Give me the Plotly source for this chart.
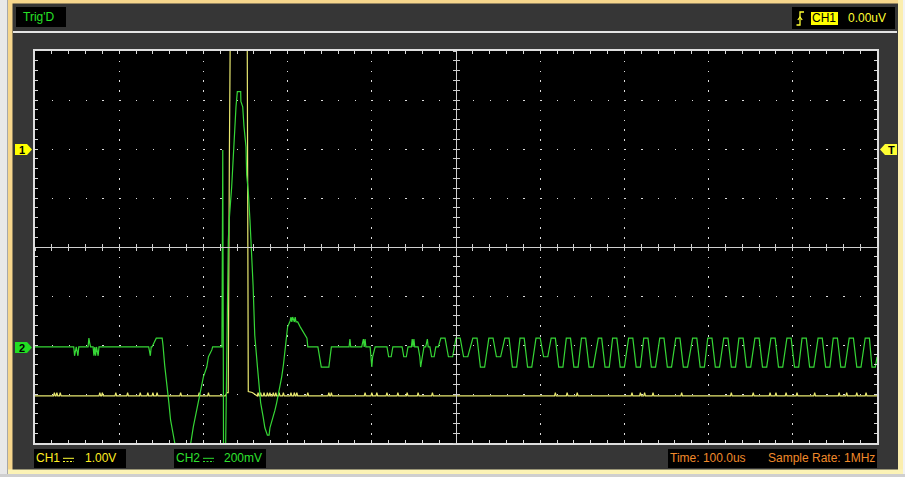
import plotly.graph_objects as go

# ---------------- data (time in us, value in screen divisions) ----------------
ch1_points = [
    (0, -3.04), (22, -3.04), (23, -2.97), (24, -3.04), (25, -3.04), (26, -2.97), (27, -3.04),
    (29, -3.04), (30, -2.97), (31, -3.04), (76, -3.04), (77, -2.97), (78, -3.04), (79, -3.04),
    (80, -2.97), (81, -3.04), (95, -3.04), (96, -2.97), (97, -3.04), (109, -3.04), (110, -2.97),
    (111, -3.04), (124, -3.04), (125, -2.97), (126, -3.04), (133, -3.04), (134, -2.97), (135, -3.04),
    (139, -3.04), (140, -2.97), (141, -3.04), (144, -3.04), (145, -2.97), (146, -3.04),
    (172, -3.04), (173, -2.97), (174, -3.04), (194, -3.04), (195, -2.97), (196, -3.04),
    (205, -3.04), (206, -2.97), (207, -3.04),
    (226, -3.04), (228, -2.97), (229.5, -2.97), (230.8, 1.7), (232, 4.6), (252, 4.6),
    (253.3, -2.95), (258, -2.97), (264, -3.04),
    (265, -2.97), (266, -3.04), (267, -3.04), (268, -2.97), (269, -3.04), (271, -3.04), (272, -2.97),
    (273, -3.04), (275, -3.04), (276, -2.97), (277, -3.04), (278, -3.04), (279, -2.97), (280, -3.04),
    (282, -3.04), (283, -2.97), (284, -3.04), (285, -3.04), (286, -2.97), (287, -3.04),
    (289, -3.04), (290, -2.97), (291, -3.04), (294, -3.04), (295, -2.97), (296, -3.04),
    (303, -3.04), (304, -2.97), (305, -3.04), (307, -3.04), (308, -2.97), (309, -3.04),
    (310, -3.04), (311, -2.97), (312, -3.04), (323, -3.04), (324, -2.97), (325, -3.04),
    (348, -3.04), (349, -2.97), (350, -3.04), (351, -3.04), (352, -2.97), (353, -3.04),
    (391, -3.04), (392, -2.97), (393, -3.04), (399, -3.04), (400, -2.97), (401, -3.04),
    (405, -3.04), (406, -2.97), (407, -3.04), (417, -3.04), (418, -2.97), (419, -3.04),
    (430, -3.04), (431, -2.97), (432, -3.04), (441, -3.04), (442, -2.97), (443, -3.04),
    (454, -3.04), (455, -2.97), (456, -3.04), (471, -3.04), (472, -2.97), (473, -3.04),
    (617, -3.04), (618, -2.97), (619, -3.04), (631, -3.04), (632, -2.97), (633, -3.04),
    (643, -3.04), (644, -2.97), (645, -3.04), (708, -3.04), (709, -2.97), (710, -3.04),
    (718, -3.04), (719, -2.97), (720, -3.04), (723, -3.04), (724, -2.97), (725, -3.04),
    (733, -3.04), (734, -2.97), (735, -3.04), (767, -3.04), (768, -2.97), (769, -3.04),
    (826, -3.04), (827, -2.97), (828, -3.04), (852, -3.04), (853, -2.97), (854, -3.04),
    (872, -3.04), (873, -2.97), (874, -3.04), (879, -3.04), (880, -2.97), (881, -3.04),
    (891, -3.04), (892, -2.97), (893, -3.04), (904, -3.04), (905, -2.97), (906, -3.04),
    (925, -3.04), (926, -2.97), (927, -3.04), (954, -3.04), (955, -2.97), (956, -3.04),
    (963, -3.04), (964, -2.97), (965, -3.04), (975, -3.04), (976, -2.97), (977, -3.04),
    (986, -3.04), (987, -2.97), (988, -3.04), (1000, -3.04),
]

ch2_points = [
    (0, -2.04), (46, -2.04), (47, -2.22), (49, -2.04), (51, -2.22), (52, -2.04),
    (63, -2.04), (64, -1.86), (65, -1.96), (66, -2.04),
    (69, -2.04), (70, -2.22), (71, -2.04), (72, -2.22), (73, -2.04), (75, -2.22), (76, -2.04),
    (135, -2.04), (137, -2.22), (138, -2.04), (139, -2.04), (141, -1.96), (144, -1.86), (151, -1.86),
    (152, -2.00), (154, -2.41), (157, -2.82), (159, -3.18), (161, -3.53), (164, -3.80), (166, -4.00),
    (176, -4.60), (185, -4.00), (188, -3.67), (192, -3.33), (196, -2.92), (200, -2.65), (204, -2.45),
    (206, -2.24), (210, -2.10), (211, -2.04), (222, -2.04), (223, 1.98), (224, -4.60), (226, -4.60),
    (229.6, 0.14), (230.8, 0.59), (233.6, 1.23), (234.8, 1.64), (236.3, 1.92), (237.5, 2.43),
    (238.7, 2.86), (240.3, 3.17), (244.3, 3.17), (244.5, 2.97), (246.7, 2.86), (248.2, 2.46),
    (249.8, 2.25), (250.6, 2.04), (251.4, 1.47), (253.3, 1.13), (255.3, 0.55), (256.5, 0.14),
    (258, -0.27), (259, -0.78), (260, -1.29), (261, -1.80), (264, -2.41), (266, -2.82), (268, -3.18),
    (271, -3.47), (273, -3.69), (276, -3.84), (278, -3.84), (279, -3.69), (283, -3.47), (285, -3.33),
    (287, -3.18), (291, -2.86), (293, -2.65), (295, -2.41), (297, -2.10), (298, -1.90), (300, -1.63),
    (303, -1.51), (304, -1.43), (305, -1.53), (306, -1.43), (308, -1.53), (309, -1.43), (310, -1.53),
    (312, -1.53), (315, -1.63), (319, -1.76), (323, -1.86), (324, -2.04), (336, -2.04), (340, -2.45),
    (349, -2.45), (352, -2.04),
    (373, -2.04), (374, -1.88), (375, -2.04), (388, -2.04), (390, -1.88), (391, -2.04), (392, -1.88),
    (393, -2.04), (398, -2.04), (399, -2.24), (400, -2.45), (401, -2.24), (404, -2.04), (418, -2.04),
    (420, -2.24), (423, -2.24), (425, -2.04), (436, -2.04), (438, -2.24), (441, -2.24), (443, -2.04),
    (447, -2.04), (448, -1.88), (449, -2.04), (450, -1.88), (451, -2.04), (455, -2.04), (457, -2.24),
    (458, -2.45), (460, -2.24), (462, -2.04), (464, -2.04), (466, -1.88), (467, -2.04), (469, -2.04),
    (471, -2.24), (474, -2.24), (476, -2.04), (479, -2.04),
    (482, -1.86), (487, -1.86), (491, -2.24), (496, -2.24), (500, -1.86),
    (505, -1.86), (509, -2.24), (514, -2.24), (520, -1.86),
    (525, -1.86), (529, -2.45), (534, -2.45), (539, -1.86),
    (544, -1.86), (548, -2.24), (553, -2.24), (558, -1.86),
    (563, -1.86), (567, -2.45), (572, -2.45), (576, -1.86),
    (581, -1.86), (585, -2.45), (590, -2.45), (595, -1.86),
    (600, -1.86), (604, -2.24), (609, -2.24), (613, -1.86),
    (618, -1.86), (622, -2.45), (627, -2.45), (631, -1.86),
    (636, -1.86), (640, -2.45), (645, -2.45), (649, -1.86),
    (654, -1.86), (658, -2.45), (663, -2.45), (669, -1.86),
    (673, -1.86), (677, -2.45), (682, -2.45), (686, -1.86),
    (691, -1.86), (695, -2.45), (700, -2.45), (705, -1.86),
    (710, -1.86), (714, -2.45), (719, -2.45), (723, -1.86),
    (728, -1.86), (732, -2.45), (737, -2.45), (742, -1.86),
    (747, -1.86), (751, -2.45), (756, -2.45), (761, -1.86),
    (766, -1.86), (770, -2.45), (775, -2.45), (781, -1.86),
    (786, -1.86), (790, -2.45), (795, -2.45), (799, -1.86),
    (804, -1.86), (808, -2.45), (813, -2.45), (818, -1.86),
    (823, -1.86), (827, -2.45), (832, -2.45), (836, -1.86),
    (841, -1.86), (845, -2.45), (850, -2.45), (855, -1.86),
    (860, -1.86), (864, -2.45), (869, -2.45), (874, -1.86),
    (879, -1.86), (883, -2.45), (888, -2.45), (893, -1.86),
    (898, -1.86), (902, -2.45), (907, -2.45), (911, -1.86),
    (916, -1.86), (920, -2.45), (925, -2.45), (930, -1.86),
    (935, -1.86), (939, -2.45), (944, -2.45), (948, -1.86),
    (953, -1.86), (957, -2.45), (962, -2.45), (967, -1.86),
    (972, -1.86), (976, -2.45), (981, -2.45), (986, -1.86),
    (991, -1.86), (994, -2.45), (998, -2.45), (1000, -2.24),
]

time_range = [0, 1000]      # 10 div x 100.0us
div_range = [-4, 4]         # 8 vertical divisions

header_trig = "Trig'D"
trig_channel = "CH1"
trig_level = "0.00uV"
ch1_label, ch1_scale = "CH1", "1.00V"
ch2_label, ch2_scale = "CH2", "200mV"
time_label = "Time: 100.0us"
rate_label = "Sample Rate: 1MHz"

# ---------------- figure ----------------
W, H = 905, 477
L, R, T, B = 35, 28, 51, 34
PW, PH = W - L - R, H - T - B


def PX(x):
    return (x - L) / PW


def PY(y):
    return (H - B - y) / PH


FONT = "Arial, Liberation Sans, sans-serif"
YEL = "#ffff33"
GRN = "#2ee02e"
ORG = "#f08a2a"

fig = go.Figure()
fig.add_trace(go.Scatter(x=[p[0] for p in ch1_points], y=[p[1] for p in ch1_points],
                         mode="lines", line=dict(color="#e8e870", width=1.2),
                         hoverinfo="skip", showlegend=False))
fig.add_trace(go.Scatter(x=[p[0] for p in ch2_points], y=[p[1] for p in ch2_points],
                         mode="lines", line=dict(color="#36d636", width=1.2),
                         hoverinfo="skip", showlegend=False))
# invisible anchors so the centre-crosshair axes are drawn
for xa, ya in (("x2", "y"), ("x3", "y"), ("x", "y2"), ("x", "y3")):
    fig.add_trace(go.Scatter(x=[time_range[0]], y=[div_range[0] - 10], xaxis=xa, yaxis=ya,
                             mode="markers", marker=dict(opacity=0), hoverinfo="skip",
                             showlegend=False))

GRID = "#dcdcdc"
TICK = "#d8d8d8"
BORDER = "#dedede"
CROSS = "#cfcfcf"

fig.update_layout(
    width=W, height=H, margin=dict(l=L, r=R, t=T, b=B, pad=0),
    paper_bgcolor="#363636", plot_bgcolor="#000000", showlegend=False,
    xaxis=dict(range=time_range, showticklabels=False, zeroline=False, fixedrange=True,
               showgrid=True, gridcolor=GRID, gridwidth=1.3, griddash="1.3px,8.5px",
               tick0=0, dtick=100, ticks="inside", ticklen=3, tickwidth=1, tickcolor=TICK,
               showline=True, linewidth=2, linecolor=BORDER, mirror="ticks",
               minor=dict(tick0=0, dtick=20, ticks="inside", ticklen=3, tickwidth=1,
                          tickcolor=TICK, showgrid=False)),
    yaxis=dict(range=div_range, showticklabels=False, zeroline=False, fixedrange=True,
               showgrid=True, gridcolor=GRID, gridwidth=1.3, griddash="1.3px,15.54px",
               tick0=0, dtick=1, ticks="inside", ticklen=3, tickwidth=1, tickcolor=TICK,
               showline=True, linewidth=2, linecolor=BORDER, mirror="ticks",
               minor=dict(tick0=0, dtick=0.2, ticks="inside", ticklen=3, tickwidth=1,
                          tickcolor=TICK, showgrid=False)),
    xaxis2=dict(range=time_range, overlaying="x", anchor="free", position=0.5,
                showticklabels=False, zeroline=False, showgrid=False, fixedrange=True,
                tick0=0, dtick=20, ticks="outside", ticklen=3, tickwidth=1, tickcolor=CROSS,
                showline=True, linewidth=1, linecolor=CROSS),
    xaxis3=dict(range=time_range, overlaying="x", anchor="free", position=0.5,
                showticklabels=False, zeroline=False, showgrid=False, fixedrange=True,
                tick0=0, dtick=20, ticks="inside", ticklen=3, tickwidth=1, tickcolor=CROSS,
                showline=False),
    yaxis2=dict(range=div_range, overlaying="y", anchor="free", position=0.5,
                showticklabels=False, zeroline=False, showgrid=False, fixedrange=True,
                tick0=0, dtick=0.2, ticks="outside", ticklen=3, tickwidth=1, tickcolor=CROSS,
                showline=True, linewidth=1, linecolor=CROSS),
    yaxis3=dict(range=div_range, overlaying="y", anchor="free", position=0.5,
                showticklabels=False, zeroline=False, showgrid=False, fixedrange=True,
                tick0=0, dtick=0.2, ticks="inside", ticklen=3, tickwidth=1, tickcolor=CROSS,
                showline=False),
)

shapes = []


def rect(x0, y0, x1, y1, color):
    shapes.append(dict(type="rect", xref="paper", yref="paper", x0=PX(x0), x1=PX(x1),
                       y0=PY(y1), y1=PY(y0), fillcolor=color, line=dict(width=0),
                       layer="above"))


def path(points, fill=None, color=None, width=0, close=True):
    d = "M" + " L".join(f"{PX(x):.5f},{PY(y):.5f}" for x, y in points)
    if close:
        d += " Z"
    s = dict(type="path", xref="paper", yref="paper", path=d, layer="above",
             line=dict(width=width, color=color or "rgba(0,0,0,0)"))
    if fill:
        s["fillcolor"] = fill
    shapes.append(s)


def hline(x0, x1, y, color, width=1, dash="solid"):
    shapes.append(dict(type="line", xref="paper", yref="paper", x0=PX(x0), x1=PX(x1),
                       y0=PY(y), y1=PY(y), line=dict(color=color, width=width, dash=dash),
                       layer="above"))


# window chrome
rect(0, 0, 7, 477, "#e8e8e8")
rect(7, 0, 8, 474, "#a8a8a8")
rect(8, 0, 12.5, 474, "#f6d68c")
rect(8, 0, 905, 3.5, "#f6d68c")
rect(898, 0, 903, 474, "#fbeeae")
rect(903, 0, 905, 477, "#f2f2f2")
rect(8, 469.5, 903, 474, "#fcf3b6")
rect(0, 474, 905, 477, "#cfcfcf")
hline(13, 897, 32, "#e4e4e4", width=2)

# header boxes
rect(16, 7, 66, 27, "#000000")
rect(792, 7, 895, 29, "#000000")
rect(811, 12, 838, 25, "#ffff00")
# trigger edge symbol
path([(796.5, 25), (800, 25), (800, 12), (804, 12)], color=YEL, width=1.3, close=False)
path([(797.8, 20), (800, 17), (802.2, 20)], color=YEL, width=1.2, close=False)

# footer boxes
rect(34, 449, 126, 468, "#000000")
rect(174, 449, 266, 468, "#000000")
rect(668, 449, 877, 468, "#000000")

# DC coupling symbols
for x0, col in ((63, YEL), (203, GRN)):
    hline(x0, x0 + 11, 458.3, col, width=1)
    hline(x0, x0 + 11, 461.5, col, width=1, dash="2px,1.5px")

# channel / trigger markers
path([(15, 144), (27, 144), (32, 149.5), (27, 155), (15, 155)], fill="#ffff00")
path([(15, 342), (27, 342), (32, 347.5), (27, 353), (15, 353)], fill="#22dd22")
path([(880, 149.5), (885, 144), (897, 144), (897, 155), (885, 155)], fill="#ffff33")

fig.update_layout(shapes=shapes)

ann = []


def text(x, y, s, color, size=12, anchor="left", bold=False):
    ann.append(dict(xref="paper", yref="paper", x=PX(x), y=PY(y), text=f"<b>{s}</b>" if bold else s,
                    showarrow=False, xanchor=anchor, yanchor="middle",
                    font=dict(family=FONT, size=size, color=color),
                    borderpad=0, borderwidth=0))


text(23, 17.5, header_trig, "#27e027")
text(812, 18.5, trig_channel, "#000000")
text(847.5, 18.5, trig_level, YEL)
text(35.5, 458.5, ch1_label, "#ffee22")
text(84.5, 458.5, ch1_scale, "#ffee22")
text(175.5, 458.5, ch2_label, GRN)
text(223.5, 458.5, ch2_scale, GRN)
text(669.5, 458.5, time_label, ORG)
text(767.5, 458.5, rate_label, ORG)
text(21.5, 149.8, "1", "#000000", size=11, anchor="center", bold=True)
text(21.5, 347.8, "2", "#000000", size=11, anchor="center", bold=True)
text(891, 149.8, "T", "#000000", size=11, anchor="center", bold=True)

fig.update_layout(annotations=ann)

fig.write_html("out.html", config={"displayModeBar": False},
               post_script="document.body.style.margin='0';document.body.style.padding='0';")
